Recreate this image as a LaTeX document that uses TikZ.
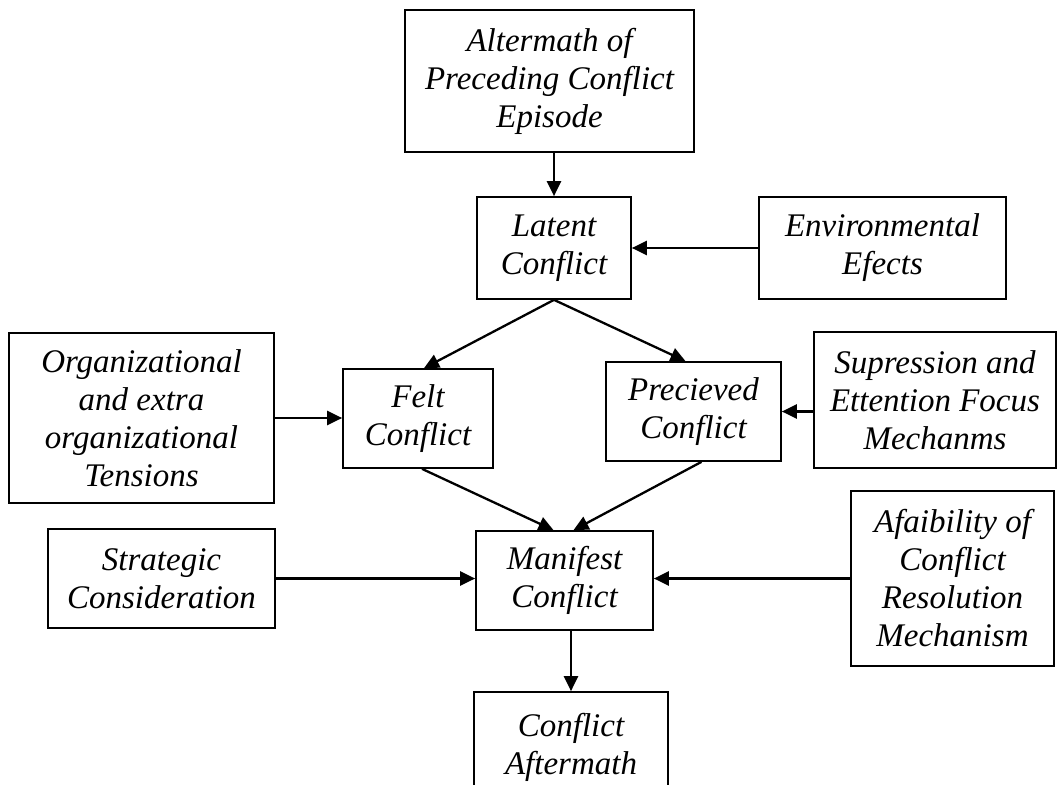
\documentclass[tikz,border=0pt]{standalone}
\usepackage{fontspec}
\setmainfont{Liberation Serif}
\usetikzlibrary{arrows.meta}
\tikzset{
  box/.style={draw, line width=1.7bp, inner sep=0pt, align=center,
    font=\fontsize{33bp}{38bp}\selectfont\itshape},
  arr/.style={line width=2.3bp, -{Triangle[length=15bp,width=14bp]}}
}
\begin{document}
\begin{tikzpicture}[x=1bp,y=-1bp]
\clip (0,0) rectangle (1058,785);
\fill[white] (0,0) rectangle (1058,785);
% boxes (centre, width, height in px)
\node[box, minimum width=289bp, minimum height=142bp] (alt) at (549.5,81) {Altermath of\\Preceding Conflict\\Episode};
\node[box, minimum width=154bp, minimum height=102bp] (lat) at (554,248) {Latent\\Conflict};
\node[box, minimum width=247bp, minimum height=102bp] (env) at (882.5,248) {Environmental\\Efects};
\node[box, minimum width=265bp, minimum height=170bp] (org) at (141.5,418) {Organizational\\and extra\\organizational\\Tensions};
\node[box, minimum width=150bp, minimum height=99bp] (felt) at (418,418.5) {Felt\\Conflict};
\node[box, minimum width=175bp, minimum height=99bp] (prec) at (693.5,411.5) {Precieved\\Conflict};
\node[box, minimum width=242bp, minimum height=136bp] (supp) at (935,400) {Supression and\\Ettention Focus\\Mechanms};
\node[box, minimum width=227bp, minimum height=99bp] (strat) at (161.5,578.5) {Strategic\\Consideration};
\node[box, minimum width=177bp, minimum height=99bp] (man) at (564.5,580.5) {Manifest\\Conflict};
\node[box, minimum width=203bp, minimum height=175bp] (afai) at (952.5,578.5) {Afaibility of\\Conflict\\Resolution\\Mechanism};
\node[box, minimum width=194bp, minimum height=110bp] (aft) at (571,747) {Conflict\\Aftermath};
% connectors
\draw[arr] (alt.south -| lat.north) -- (lat.north);
\draw[arr] (env.west) -- (env.west -| lat.east);
\draw[arr] (lat.south) -- ([xshift=6bp]felt.north);
\draw[arr] (lat.south) -- ([xshift=-8bp]prec.north);
\draw[arr] (org.east) -- (org.east -| felt.west);
\draw[arr] (supp.west |- prec.east) -- (prec.east);
\draw[arr] ([xshift=4bp]felt.south) -- ([xshift=-11bp]man.north);
\draw[arr] ([xshift=8bp]prec.south) -- ([xshift=9bp]man.north);
\draw[arr] (strat.east) -- (strat.east -| man.west);
\draw[arr] (afai.west) -- (afai.west -| man.east);
\draw[arr] (man.south -| aft.north) -- (aft.north);
\end{tikzpicture}
\end{document}
